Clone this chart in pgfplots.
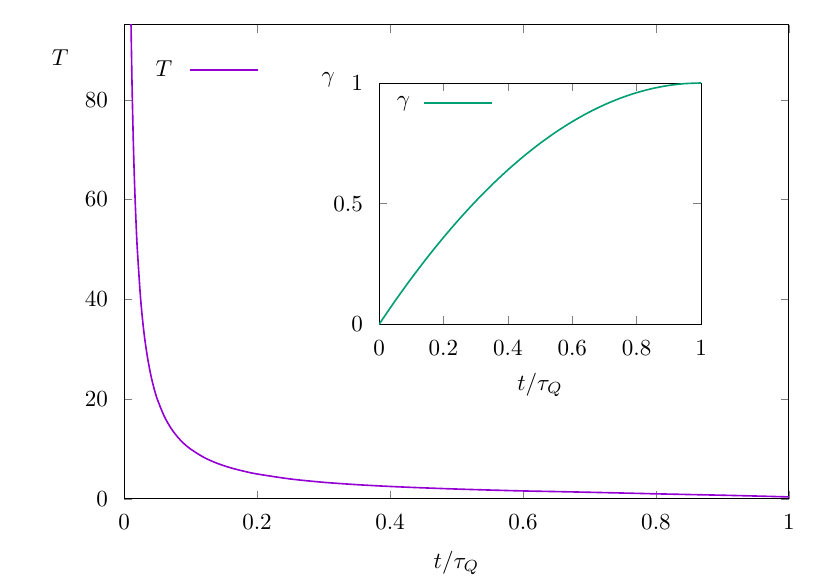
\documentclass[border=0pt]{standalone}
\usepackage{pgfplots}
\pgfplotsset{compat=1.18}
\definecolor{gpviolet}{HTML}{9400D3}
\definecolor{gpgreen}{HTML}{009E73}
\begin{document}
\begin{tikzpicture}
\path[use as bounding box] (-53.8pt,-35.6pt) rectangle (306.2pt,216.4pt);
\begin{axis}[
  at={(0pt,0pt)}, anchor=south west,
  scale only axis, width=288.4pt, height=205.6pt,
  xmin=0, xmax=1, ymin=0, ymax=95,
  xtick={0,0.2,0.4,0.6,0.8,1}, ytick={0,20,40,60,80},
  major tick length=3.5pt, tick align=inside,
  xticklabel style={yshift=-3.5pt}, yticklabel style={xshift=-3.5pt},
  every axis x label/.style={at={(axis description cs:0.5,-0.135)},anchor=center},
  every axis y label/.style={at={(axis description cs:-0.096,0.93)},anchor=center},
  xlabel={$t/\tau_Q$}, ylabel={$T$},
  legend plot pos=right,
  legend style={draw=none, fill=none, at={(axis description cs:0.040,0.905)}, anchor=west, inner sep=0pt},
  legend image code/.code={\path (0pt,0pt); \draw[#1] (5.5pt,0pt) -- (35pt,0pt);},
]
\addplot[gpviolet, line width=0.7pt, smooth] table {
0.0100 100
0.0105 95.2
0.012 83.3
0.014 71.4
0.016 62.5
0.018 55.6
0.020 50.0
0.025 40.0
0.030 33.3
0.035 28.6
0.040 25.0
0.045 22.2
0.050 20.0
0.060 16.7
0.070 14.3
0.080 12.5
0.090 11.1
0.100 10.0
0.120 8.33
0.140 7.14
0.160 6.25
0.180 5.56
0.200 5.00
0.250 4.00
0.300 3.33
0.350 2.86
0.400 2.50
0.450 2.22
0.500 1.98
0.550 1.78
0.600 1.60
0.650 1.47
0.700 1.33
0.750 1.18
0.800 1.02
0.850 0.88
0.900 0.74
0.950 0.58
1.000 0.40
};
\addlegendentry{$T$}
\end{axis}
\begin{axis}[
  at={(110.6pt,75.7pt)}, anchor=south west,
  scale only axis, width=139.7pt, height=104.7pt,
  xmin=0, xmax=1, ymin=0, ymax=1,
  xtick={0,0.2,0.4,0.6,0.8,1}, ytick={0,0.5,1},
  major tick length=3.5pt, tick align=inside,
  xticklabel style={yshift=-3.5pt}, yticklabel style={xshift=-3.5pt},
  every axis x label/.style={at={(axis description cs:0.5,-0.25)},anchor=center},
  every axis y label/.style={at={(axis description cs:-0.158,1.012)},anchor=center},
  xlabel={$t/\tau_Q$}, ylabel={$\gamma$},
  legend plot pos=right,
  legend style={draw=none, fill=none, at={(axis description cs:0.04,0.917)}, anchor=west, inner sep=0pt},
  legend image code/.code={\path (0pt,0pt); \draw[#1] (3.5pt,0pt) -- (33pt,0pt);},
]
\addplot[gpgreen, line width=0.7pt, smooth] table {
0.00 0
0.05 0.0975
0.10 0.19
0.15 0.2775
0.20 0.36
0.25 0.4375
0.30 0.51
0.35 0.5775
0.40 0.64
0.45 0.6975
0.50 0.75
0.55 0.7975
0.60 0.84
0.65 0.8775
0.70 0.91
0.75 0.9375
0.80 0.96
0.85 0.9775
0.90 0.99
0.95 0.9975
1.00 1
};
\addlegendentry{$\gamma$}
\end{axis}
\end{tikzpicture}
\end{document}
